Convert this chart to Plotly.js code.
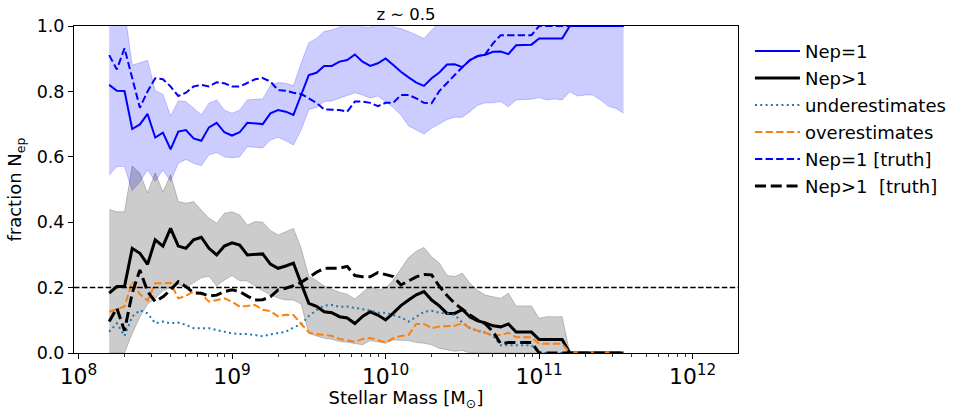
<!DOCTYPE html>
<html>
<head>
<meta charset="utf-8">
<script src="https://cdn.plot.ly/plotly-3.0.1.min.js"></script>
<style>
  html, body { margin: 0; padding: 0; background: #fff; }
  #chart { width: 963px; height: 411px; }
</style>
</head>
<body>
<div id="chart"></div>
<script>
// log10 stellar mass bins (0.05 dex apart)
const logMass = [
  8.20, 8.25, 8.30, 8.35, 8.40, 8.45, 8.50, 8.55, 8.60, 8.65,
  8.70, 8.75, 8.80, 8.85, 8.90, 8.95, 9.00, 9.05, 9.10, 9.15,
  9.20, 9.25, 9.30, 9.35, 9.40, 9.45, 9.50, 9.55, 9.60, 9.65,
  9.70, 9.75, 9.80, 9.85, 9.90, 9.95, 10.00, 10.05, 10.10, 10.15,
  10.20, 10.25, 10.30, 10.35, 10.40, 10.45, 10.50, 10.55, 10.60, 10.65,
  10.70, 10.75, 10.80, 10.85, 10.90, 10.95, 11.00, 11.05, 11.10, 11.15,
  11.20, 11.25, 11.30, 11.35, 11.40, 11.45, 11.50, 11.55
];

const nep1 = [
  0.820, 0.802, 0.801, 0.685, 0.699, 0.731, 0.659, 0.674, 0.623, 0.677,
  0.682, 0.656, 0.649, 0.690, 0.704, 0.675, 0.665, 0.675, 0.704, 0.702,
  0.700, 0.733, 0.743, 0.738, 0.728, 0.789, 0.850, 0.857, 0.878, 0.878,
  0.891, 0.896, 0.913, 0.891, 0.878, 0.886, 0.901, 0.881, 0.860, 0.843,
  0.827, 0.817, 0.840, 0.858, 0.882, 0.883, 0.874, 0.896, 0.908, 0.912,
  0.921, 0.922, 0.914, 0.941, 0.941, 0.943, 0.962, 0.962, 0.962, 0.962,
  1.0, 1.0, 1.0, 1.0, 1.0, 1.0, 1.0, 1.0
];
const nep1Hi = [
  1.05, 1.05, 1.05, 0.880, 0.888, 0.895, 0.802, 0.791, 0.725, 0.771,
  0.769, 0.748, 0.728, 0.764, 0.774, 0.743, 0.733, 0.743, 0.774, 0.776,
  0.777, 0.818, 0.827, 0.825, 0.817, 0.886, 0.949, 0.962, 0.983, 0.988,
  0.996, 1.01, 1.02, 0.997, 0.996, 1.01, 1.02, 0.997, 0.992, 0.983,
  0.972, 0.962, 0.988, 1.01, 1.05, 1.05, 1.05, 1.05, 1.05, 1.05,
  1.05, 1.05, 1.05, 1.05, 1.05, 1.05, 1.05, 1.05, 1.05, 1.05,
  1.05, 1.05, 1.05, 1.05, 1.05, 1.05, 1.05, 1.05
];
const nep1Lo = [
  0.544, 0.570, 0.570, 0.496, 0.524, 0.560, 0.525, 0.560, 0.525, 0.580,
  0.592, 0.580, 0.573, 0.606, 0.613, 0.600, 0.597, 0.600, 0.631, 0.628,
  0.627, 0.651, 0.660, 0.649, 0.636, 0.682, 0.745, 0.751, 0.769, 0.771,
  0.779, 0.786, 0.796, 0.789, 0.779, 0.786, 0.769, 0.751, 0.728, 0.694,
  0.682, 0.670, 0.687, 0.700, 0.714, 0.721, 0.721, 0.738, 0.758, 0.765,
  0.765, 0.769, 0.753, 0.774, 0.774, 0.776, 0.781, 0.774, 0.777, 0.774,
  0.799, 0.786, 0.789, 0.789, 0.774, 0.755, 0.748, 0.733
];

const nepMulti = [
  0.183, 0.203, 0.203, 0.320, 0.305, 0.271, 0.346, 0.327, 0.381, 0.327,
  0.320, 0.346, 0.354, 0.320, 0.300, 0.327, 0.337, 0.330, 0.300, 0.302,
  0.303, 0.272, 0.259, 0.266, 0.275, 0.213, 0.152, 0.143, 0.126, 0.123,
  0.111, 0.107, 0.090, 0.112, 0.126, 0.116, 0.101, 0.122, 0.145, 0.162,
  0.178, 0.188, 0.162, 0.144, 0.121, 0.121, 0.133, 0.110, 0.098, 0.092,
  0.083, 0.080, 0.089, 0.064, 0.064, 0.064, 0.041, 0.041, 0.041, 0.041,
  0, 0, 0, 0, 0, 0, 0, 0
];
const nepMultiHi = [
  0.439, 0.432, 0.432, 0.572, 0.550, 0.490, 0.551, 0.493, 0.545, 0.463,
  0.458, 0.463, 0.437, 0.412, 0.397, 0.427, 0.432, 0.422, 0.391, 0.402,
  0.400, 0.375, 0.361, 0.371, 0.381, 0.320, 0.235, 0.222, 0.205, 0.195,
  0.186, 0.180, 0.165, 0.185, 0.204, 0.193, 0.198, 0.223, 0.259, 0.292,
  0.311, 0.323, 0.294, 0.275, 0.237, 0.234, 0.244, 0.213, 0.191, 0.177,
  0.172, 0.167, 0.183, 0.144, 0.144, 0.144, 0.106, 0.111, 0.111, 0.111,
  0, 0, 0, 0, 0, 0, 0, 0
];
const nepMultiLo = [
  0, 0, 0, 0.060, 0.110, 0.150, 0.167, 0.190, 0.200, 0.210,
  0.200, 0.215, 0.230, 0.235, 0.205, 0.223, 0.237, 0.221, 0.220, 0.205,
  0.190, 0.178, 0.168, 0.162, 0.162, 0.150, 0.060, 0.052, 0.045, 0.042,
  0.035, 0.033, 0.030, 0.025, 0.038, 0.035, 0.030, 0.040, 0.040, 0.038,
  0.032, 0.030, 0.025, 0.014, 0.010, 0.005, 0.008, 0, 0, 0,
  0, 0, 0, 0, 0, 0, 0, 0, 0, 0,
  0, 0, 0, 0, 0, 0, 0, 0
];

const underEst = [
  0.065, 0.091, 0.052, 0.111, 0.131, 0.121, 0.091, 0.096, 0.091, 0.093,
  0.086, 0.076, 0.076, 0.076, 0.070, 0.065, 0.060, 0.058, 0.058, 0.055,
  0.051, 0.057, 0.062, 0.065, 0.078, 0.088, 0.113, 0.131, 0.145, 0.147,
  0.141, 0.142, 0.138, 0.135, 0.130, 0.123, 0.123, 0.116, 0.109, 0.096,
  0.111, 0.126, 0.129, 0.123, 0.121, 0.116, 0.093, 0.076, 0.068, 0.062,
  0.052, 0.024, 0.024, 0.024, 0.024, 0.024, 0, 0, 0, 0,
  0, 0, 0, 0, 0, 0, 0, 0
];
const overEst = [
  0.126, 0.134, 0.142, 0.218, 0.180, 0.160, 0.213, 0.213, 0.215, 0.167,
  0.175, 0.188, 0.180, 0.157, 0.162, 0.167, 0.157, 0.142, 0.144, 0.147,
  0.132, 0.128, 0.112, 0.117, 0.116, 0.091, 0.063, 0.057, 0.056, 0.052,
  0.043, 0.039, 0.034, 0.043, 0.046, 0.040, 0.032, 0.045, 0.052, 0.055,
  0.089, 0.089, 0.076, 0.081, 0.083, 0.083, 0.091, 0.076, 0.068, 0.062,
  0.055, 0.055, 0.062, 0.048, 0.048, 0.048, 0.028, 0.028, 0.028, 0.028,
  0, 0, 0, 0, 0, 0, 0, 0
];

const nep1Truth = [
  0.911, 0.867, 0.932, 0.840, 0.750, 0.800, 0.840, 0.837, 0.815, 0.786,
  0.796, 0.815, 0.820, 0.815, 0.828, 0.825, 0.815, 0.815, 0.825, 0.837,
  0.841, 0.830, 0.804, 0.802, 0.796, 0.792, 0.779, 0.765, 0.745, 0.743,
  0.743, 0.738, 0.769, 0.769, 0.765, 0.755, 0.765, 0.765, 0.789, 0.789,
  0.779, 0.765, 0.764, 0.801, 0.827, 0.850, 0.874, 0.896, 0.908, 0.914,
  0.947, 0.972, 0.972, 0.972, 0.972, 0.972, 1.0, 1.0, 1.0, 1.0,
  1.0, 1.0, 1.0, 1.0, 1.0, 1.0, 1.0, 1.0
];
const nepMultiTruth = [
  0.096, 0.137, 0.068, 0.183, 0.254, 0.188, 0.157, 0.172, 0.193, 0.218,
  0.203, 0.184, 0.183, 0.174, 0.177, 0.188, 0.193, 0.188, 0.174, 0.162,
  0.163, 0.172, 0.193, 0.198, 0.206, 0.216, 0.231, 0.247, 0.259, 0.259,
  0.259, 0.265, 0.237, 0.233, 0.233, 0.246, 0.240, 0.234, 0.208, 0.220,
  0.233, 0.240, 0.239, 0.204, 0.176, 0.152, 0.134, 0.116, 0.101, 0.089,
  0.065, 0.028, 0.032, 0.032, 0.032, 0.032, 0, 0, 0, 0,
  0, 0, 0, 0, 0, 0, 0, 0
];

const threshold = 0.2;

const mass = logMass.map(v => Math.pow(10, v));
const FONT = 'DejaVu Sans, Verdana, sans-serif';

function band(lo, hi, fill) {
  return [
    { x: mass, y: lo, type: 'scatter', mode: 'lines', showlegend: false, hoverinfo: 'skip',
      line: { color: fill, width: 1 } },
    { x: mass, y: hi, type: 'scatter', mode: 'lines', showlegend: false, hoverinfo: 'skip',
      line: { color: fill, width: 1 }, fill: 'tonexty', fillcolor: fill }
  ];
}

// each line gets its own legend group so tracegroupgap sets the row spacing
function line(y, name, color, width, dash) {
  return { x: mass, y: y, name: name, legendgroup: name, type: 'scatter', mode: 'lines',
    line: { color: color, width: width, dash: dash || 'solid' } };
}

const data = [
  ...band(nep1Lo, nep1Hi, 'rgba(0,0,255,0.2)'),
  ...band(nepMultiLo, nepMultiHi, 'rgba(0,0,0,0.2)'),
  line(nep1, 'Nep=1', '#0000ff', 2),
  line(nepMulti, 'Nep>1', '#000000', 3),
  line(underEst, 'underestimates', '#1f77b4', 2, '2px,3.3px'),
  line(overEst, 'overestimates', '#ff7f0e', 2, '7.4px,3.2px'),
  line(nep1Truth, 'Nep=1 [truth]', '#0000ff', 2, '7.4px,3.2px'),
  line(nepMultiTruth, 'Nep>1  [truth]', '#000000', 3, '11px,4.8px')
];

const axisCommon = {
  showline: true, linecolor: '#000', linewidth: 1, mirror: true,
  ticks: 'outside', ticklen: 5, tickwidth: 1, tickcolor: '#000',
  showgrid: false, zeroline: false,
  tickfont: { family: FONT, size: 17.5, color: '#000' }
};

const layout = {
  width: 963, height: 411,
  margin: { l: 74, r: 223, t: 26, b: 58 },
  paper_bgcolor: '#fff', plot_bgcolor: '#fff',
  font: { family: FONT, color: '#000' },
  title: { text: 'z \u223C 0.5', font: { family: FONT, size: 16.5, color: '#000' },
    x: 0.5, xref: 'paper', xanchor: 'center', y: 0.966, yref: 'container', yanchor: 'middle' },
  xaxis: {
    ...axisCommon,
    type: 'log', range: [7.971, 12.295], dtick: 1, exponentformat: 'power',
    minor: { dtick: 'D1', ticks: 'outside', ticklen: 2.5, tickcolor: '#000', tickwidth: 0.8 },
    title: { text: 'Stellar Mass [M<sub>\u2299</sub>]', font: { family: FONT, size: 18, color: '#000' }, standoff: 8 }
  },
  yaxis: {
    ...axisCommon,
    range: [0, 1], dtick: 0.2, tickformat: '.1f',
    title: { text: 'fraction N<sub>ep</sub>', font: { family: FONT, size: 18, color: '#000' }, standoff: 10 }
  },
  shapes: [{
    type: 'line', xref: 'paper', x0: 0, x1: 1, yref: 'y', y0: threshold, y1: threshold,
    line: { color: '#000', width: 1.5, dash: '5.5px,2.4px' }
  }],
  legend: {
    x: 1.018, xanchor: 'left', y: 0.979, yanchor: 'top',
    bgcolor: 'rgba(0,0,0,0)', borderwidth: 0,
    font: { family: FONT, size: 18, color: '#000' },
    traceorder: 'grouped', tracegroupgap: 0.6, itemwidth: 45
  },
  showlegend: true
};

Plotly.newPlot('chart', data, layout, { displayModeBar: false, staticPlot: true });
</script>
</body>
</html>
